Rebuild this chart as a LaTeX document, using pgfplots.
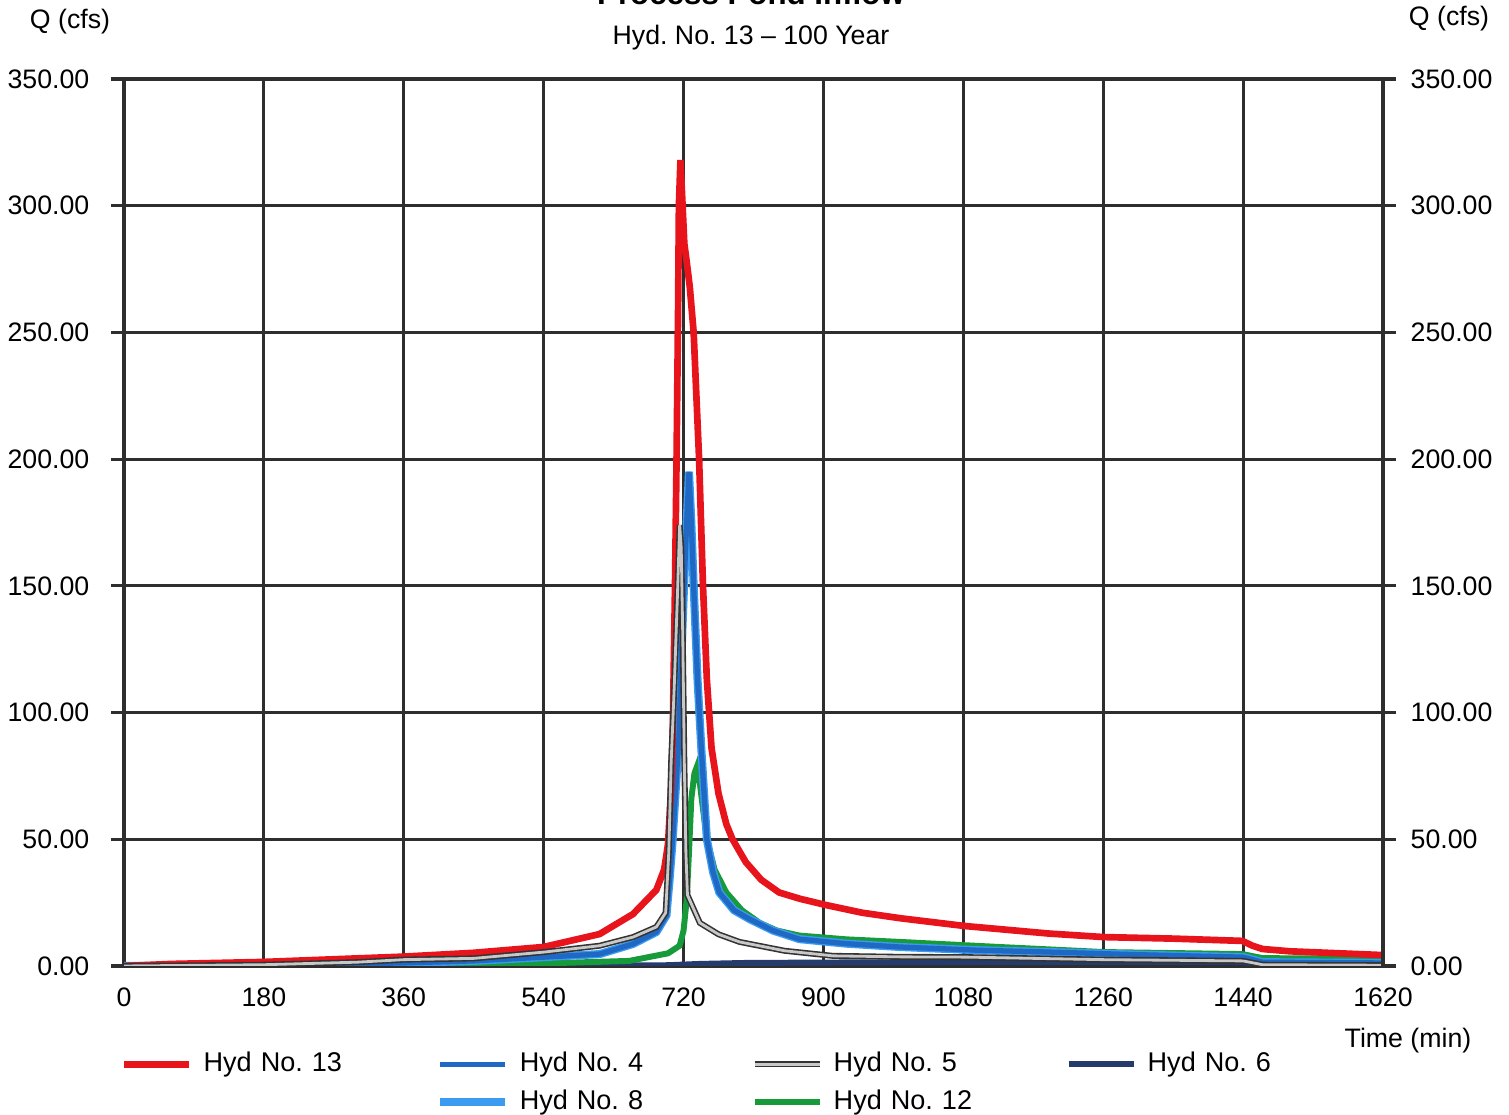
\documentclass[border=0pt]{standalone}
\usepackage{fontspec}
\setmainfont{Liberation Sans}
\usepackage{pgfplots}
\pgfplotsset{compat=1.18}
\frenchspacing

\definecolor{gridc}{HTML}{2E2E2E}
\definecolor{hred}{HTML}{E8141C}
\definecolor{hblue}{HTML}{1F68C4}
\definecolor{hlblue}{HTML}{3A9BF0}
\definecolor{hgreen}{HTML}{169A3A}
\definecolor{hnavy}{HTML}{243B6B}
\definecolor{hgray}{HTML}{C8C8C8}

\newcommand{\fs}{\fontsize{7.6pt}{9pt}\selectfont}
\newcommand{\fl}{\fontsize{7.7pt}{9.2pt}\selectfont}

\pgfplotsset{
  h13/.style={draw=hred, line width=1.9pt},
  h4/.style={draw=hblue, line width=1.5pt},
  h8/.style={draw=hlblue, line width=2.3pt},
  h5/.style={draw=black!80, line width=0.45pt, double=hgray, double distance=0.8pt},
  h6/.style={draw=hnavy, line width=1.7pt},
  h12/.style={draw=hgreen, line width=1.7pt},
}

\begin{document}
\begin{tikzpicture}
\useasboundingbox (0,0) rectangle (150.9mm,111.5mm);

\node[font=\fontsize{8.9pt}{10pt}\selectfont\bfseries, anchor=base, inner sep=0pt] at (75.1mm,111.0mm) {Process Pond Inflow};
\node[font=\fs, anchor=base, inner sep=0pt] at (75.1mm,107.0mm) {Hyd. No. 13 -- 100 Year};
\node[font=\fs, anchor=base, inner sep=0pt] at (7.0mm,108.6mm) {Q (cfs)};
\node[font=\fs, anchor=base, inner sep=0pt] at (144.9mm,108.9mm) {Q (cfs)};
\node[font=\fs, anchor=base, inner sep=0pt] at (140.8mm,6.7mm) {Time (min)};

\begin{axis}[
  at={(12.4mm,14.9mm)}, anchor=south west,
  scale only axis, width=125.9mm, height=88.7mm,
  xmin=0, xmax=1620, ymin=0, ymax=350,
  xtick={0,180,...,1620}, ytick={0,50,...,350},
  grid=major,
  major grid style={draw=gridc, line width=0.9pt},
  axis line style={draw=gridc, line width=0.9pt},
  tick align=outside, major tick length=1.3mm,
  ytick pos=left,
  xtick style={draw=none},
  ytick style={draw=gridc, line width=0.9pt},
  ticklabel style={font=\fs},
  /pgf/number format/assume math mode=true,
  xticklabel style={/pgf/number format/1000 sep={}, anchor=base, inner sep=0pt},
  xticklabel shift=2.8mm,
  yticklabel style={/pgf/number format/.cd, fixed, fixed zerofill, precision=2, /tikz/.cd, anchor=east, inner sep=0pt},
  yticklabel shift=2.1mm,
  legend columns=4,
  legend image code/.code={\draw[#1] (0mm,0mm) -- (6.5mm,0mm);},
  legend style={at={(0,0)}, anchor=north west, xshift=-0.3mm, yshift=-8.6mm,
    draw=none, fill=none, inner sep=0pt, outer sep=0pt, row sep=1.3mm,
    font=\fl, nodes={inner sep=0pt, anchor=west, text width=21.7mm},
    /tikz/every even column/.append style={column sep=1.5mm},
    /tikz/every odd column/.append style={column sep=1.1mm}},
]

% Hyd 6
\addplot[h6, forget plot] coordinates {
(0,0) (600,0.1) (700,0.3) (740,0.8) (800,1.2) (1000,1.5) (1440,1.5) (1460,0.3) (1620,0.2)};

% Hyd 12
\addplot[h12, forget plot] coordinates {
(0,0) (180,0.2) (360,0.5) (540,1) (650,2) (700,5) (715,8) (720,14) (724,26) (727,45) (730,66) (734,76) (737,78.5) (741,72) (745,62) (750,50) (760,38) (775,29) (795,22) (818,17) (840,14) (869,12) (930,10.5) (998,9.5) (1126,7.5) (1260,5.5) (1439,4.7) (1465,3.1) (1620,2.8)};

% Hyd 8
\addplot[h8, forget plot] coordinates {
(0,0) (180,0.3) (360,1.2) (450,2) (541,3.5) (612,4.7) (655,8.7) (685,13.4) (698,20) (702,34) (706,50) (710,70) (714,90) (717,120) (720,145) (724,175) (727,195) (730,175) (733,150) (738,113) (743,85) (750,50) (758,37) (766,29) (785,22) (805,18.5) (835,14) (869,10.6) (930,8.8) (998,7.5) (1100,6.2) (1190,5.5) (1300,4.5) (1440,3.5) (1465,1.5) (1620,1.2)};

% Hyd 4
\addplot[h4, forget plot] coordinates {
(0,0) (180,0.3) (360,1.2) (450,2) (541,3.5) (612,4.7) (655,8.7) (685,13.4) (698,20) (702,34) (706,50) (710,70) (714,90) (717,120) (720,145) (724,175) (727,195) (730,175) (733,150) (738,113) (743,85) (750,50) (758,37) (766,29) (785,22) (805,18.5) (835,14) (869,10.6) (930,8.8) (998,7.5) (1100,6.2) (1190,5.5) (1300,4.5) (1440,3.5) (1465,1.5) (1620,1.2)};

% Hyd 13
\addplot[h13, forget plot] coordinates {
(0,0) (60,0.8) (180,1.6) (360,3.7) (450,5.2) (540,7.5) (612,12.6) (655,20.5) (685,30) (695,38) (700,48) (704,70) (706,90) (709,150) (711,200) (713,260) (714,300) (716,318) (718,305) (721,285) (724,278) (728,268) (733,250) (740,200) (745,150) (750,113) (756,86) (765,68) (775,56) (783,50) (800,41) (820,34) (843,29) (870,26.5) (904,24) (950,21) (1000,18.8) (1081,15.8) (1190,12.8) (1261,11.4) (1350,10.8) (1439,9.9) (1452,8) (1465,6.7) (1500,5.8) (1620,4.3)};

% Hyd 5
\addplot[h5, forget plot] coordinates {
(0,0) (180,0.5) (300,1.5) (360,2.5) (450,3) (541,5.5) (612,8) (655,11.4) (685,15.4) (697,21) (701,45) (704,80) (708,110) (712,145) (715,174) (717,165) (719,130) (721,80) (723,45) (725,28) (741,17) (765,12.5) (792,9.5) (850,6) (912,4) (1000,3.6) (1084,3.5) (1260,2.5) (1440,2) (1465,0.5) (1620,0.3)};

\addlegendimage{h13}\addlegendentry{Hyd No. 13}
\addlegendimage{h4}\addlegendentry{Hyd No. 4}
\addlegendimage{h5}\addlegendentry{Hyd No. 5}
\addlegendimage{h6}\addlegendentry{Hyd No. 6}
\addlegendimage{empty legend}\addlegendentry{}
\addlegendimage{h8}\addlegendentry{Hyd No. 8}
\addlegendimage{h12}\addlegendentry{Hyd No. 12}
\end{axis}

\begin{axis}[
  at={(12.4mm,14.9mm)}, anchor=south west,
  scale only axis, width=125.9mm, height=88.7mm,
  xmin=0, xmax=1620, ymin=0, ymax=350,
  ytick={0,50,...,350},
  axis x line=none, axis y line*=right,
  axis line style={draw=gridc, line width=0.9pt, -},
  tick align=outside, major tick length=1.3mm,
  ytick style={draw=gridc, line width=0.9pt},
  ticklabel style={font=\fs},
  /pgf/number format/assume math mode=true,
  yticklabel style={/pgf/number format/.cd, fixed, fixed zerofill, precision=2, /tikz/.cd, anchor=west, inner sep=0pt},
  yticklabel shift=1.4mm,
]
\addplot[draw=none, forget plot] coordinates {(0,0)};
\end{axis}
\end{tikzpicture}
\end{document}
